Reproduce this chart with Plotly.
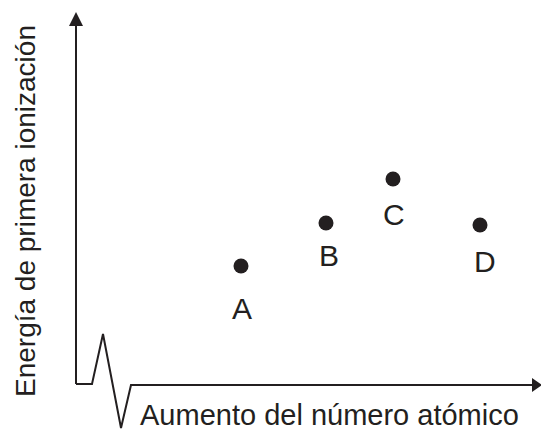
import plotly.graph_objects as go

# Data (arbitrary units: atomic-number position vs. first ionization energy)
labels = ["A", "B", "C", "D"]
atomic_pos = [165, 250, 317, 404]
ion_energy = [118, 161, 205, 159]

x_title = "Aumento del número atómico"
y_title = "Energía de primera ionización"

INK = "#231f20"
FONT = "Arial, Liberation Sans, sans-serif"

fig = go.Figure()

fig.add_trace(go.Scatter(
    x=atomic_pos, y=ion_energy, mode="markers",
    marker=dict(size=15, color=INK),
    hoverinfo="skip", showlegend=False,
))

# point labels (offsets relative to the points)
offsets = {"A": (1, -42), "B": (3, -32), "C": (1, -35), "D": (5, -36)}
for lab, xv, yv in zip(labels, atomic_pos, ion_energy):
    dx, dy = offsets[lab]
    fig.add_annotation(x=xv + dx, y=yv + dy, text=lab, showarrow=False,
                       font=dict(family=FONT, size=30, color=INK),
                       xanchor="center", yanchor="middle")

# y axis line with arrow
fig.add_shape(type="line", x0=0, y0=0, x1=0, y1=360,
              line=dict(color=INK, width=2))
fig.add_shape(type="path", path="M -7 358 L 7 358 L 0 372 Z",
              fillcolor=INK, line=dict(color=INK, width=0))

# x axis with zigzag break and arrow
fig.add_shape(type="path",
              path="M 0 0 L 16 0 L 27 50 L 45 -44 L 55 -1 L 458 -1",
              line=dict(color=INK, width=2))
fig.add_shape(type="path", path="M 456 -8 L 456 6 L 466 -1 Z",
              fillcolor=INK, line=dict(color=INK, width=0))

# axis titles
fig.add_annotation(x=253, y=-31, text=x_title, showarrow=False,
                   font=dict(family=FONT, size=29, color=INK),
                   xanchor="center", yanchor="middle")
fig.add_annotation(x=-51, y=173, text=y_title, showarrow=False, textangle=-90,
                   font=dict(family=FONT, size=28, color=INK),
                   xanchor="center", yanchor="middle")

fig.update_layout(
    width=541, height=434,
    margin=dict(l=0, r=0, t=0, b=0),
    paper_bgcolor="white", plot_bgcolor="white",
    xaxis=dict(range=[-76, 465], visible=False, fixedrange=True),
    yaxis=dict(range=[-50, 384], visible=False, fixedrange=True),
)

fig.write_html("out.html", config={"displayModeBar": False},
               post_script="document.body.style.margin='0';document.body.style.overflow='hidden';")
